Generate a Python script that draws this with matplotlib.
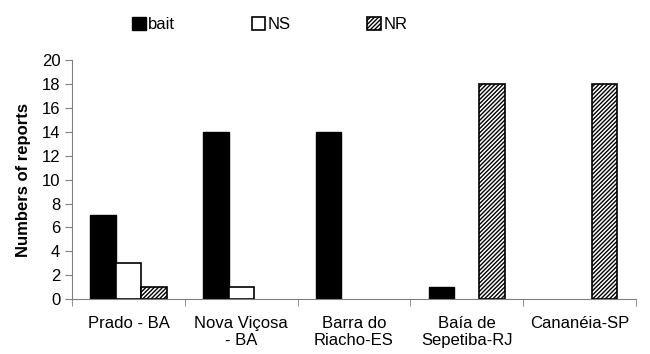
import numpy as np
import matplotlib.pyplot as plt

plt.rcParams['font.family'] = ['Liberation Sans', 'DejaVu Sans']
plt.rcParams['hatch.linewidth'] = 1.0

# Data
sites = ['Prado - BA', 'Nova Viçosa\n- BA', 'Barra do\nRiacho-ES', 'Baía de\nSepetiba-RJ', 'Cananéia-SP']
bait = [7, 14, 14, 1, 0]
ns = [3, 1, 0, 0, 0]
nr = [1, 0, 0, 18, 18]

x = np.arange(len(sites))
w = 0.225

def nz(v):
    # zero-valued bars are not drawn in the original
    v = np.array(v, dtype=float)
    v[v == 0] = np.nan
    return v

fig = plt.figure(figsize=(6.5, 3.54), dpi=100)
ax = fig.add_axes([0.111, 0.155, 0.867, 0.675])

ax.bar(x - w, nz(bait), w, color='black', edgecolor='black', linewidth=1, label='bait')
ax.bar(x, nz(ns), w, color='white', edgecolor='black', linewidth=1.2, label='NS')
ax.bar(x + w, nz(nr), w, color='white', edgecolor='black', linewidth=1.2, hatch='////////', label='NR')

ax.set_xlim(-0.5, len(sites) - 0.5)
ax.set_ylim(0, 20)
ax.set_yticks(range(0, 21, 2))
ax.set_xticks(x)
ax.set_xticklabels(sites, fontsize=12)
ax.set_xticks(np.arange(-0.5, len(sites)), minor=True)
ax.tick_params(axis='x', which='major', length=0, pad=12)
ax.tick_params(axis='x', which='minor', length=5, color='#808080', direction='out')
ax.tick_params(axis='y', length=5, color='#808080', labelsize=12)
ax.set_ylabel('Numbers of reports', fontsize=12, fontweight='bold', labelpad=8)

for s in ['top', 'right']:
    ax.spines[s].set_visible(False)
for s in ['left', 'bottom']:
    ax.spines[s].set_color('#808080')

fig.legend(loc='upper center', bbox_to_anchor=(0.415, 0.995), ncol=3, frameon=False,
           fontsize=12, columnspacing=4.6, handlelength=0.8, handleheight=0.8,
           handletextpad=0.15)

plt.savefig('out.png', dpi=100)
